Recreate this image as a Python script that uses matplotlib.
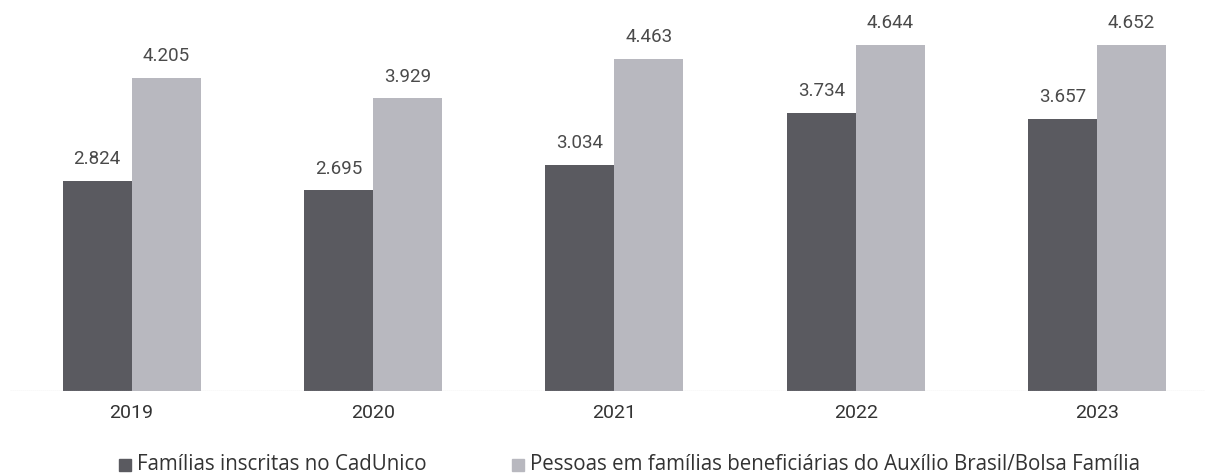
import numpy as np
import matplotlib.pyplot as plt
from matplotlib.patches import Rectangle

# Data
anos = ['2019', '2020', '2021', '2022', '2023']
familias = [2.824, 2.695, 3.034, 3.734, 3.657]
pessoas = [4.205, 3.929, 4.463, 4.644, 4.652]
rotulo_fam = 'Famílias inscritas no CadUnico'
rotulo_pes = 'Pessoas em famílias beneficiárias do Auxílio Brasil/Bolsa Família'

cor_escura = '#5a5a60'
cor_clara = '#b8b8bf'
cor_texto = '#4a4a4a'

W, H = 1205, 476
fig = plt.figure(figsize=(W/100, H/100), dpi=100)
ax = fig.add_axes([0, 85/H, 1, 391/H])

x = np.arange(len(anos))
w = 0.286
b1 = ax.bar(x - w/2, familias, w, color=cor_escura)
b2 = ax.bar(x + w/2, pessoas, w, color=cor_clara)

# value labels above each bar
for bars, vals in [(b1, familias), (b2, pessoas)]:
    for r, v in zip(bars, vals):
        ax.annotate(f'{v:.3f}', (r.get_x() + r.get_width()/2, v),
                    xytext=(0, 12), textcoords='offset points',
                    ha='center', va='baseline', fontsize=13.5,
                    family='Roboto', color=cor_texto)

ax.set_xlim(-0.545, 4.447)
ax.set_ylim(0, 5.25)
ax.set_yticks([])
ax.set_xticks(x)
ax.set_xticklabels(anos, fontsize=14, family='Roboto', color='#333333')
ax.tick_params(axis='x', length=0, pad=9)
for s in ['top', 'left', 'right', 'bottom']:
    ax.spines[s].set_visible(False)
ax.axhline(0, xmin=10/W, xmax=1, color='#c4c4c4', lw=0.9, ls=(0, (1, 0.6)))

# legend drawn by hand (square + text)
def item(x0, cor, txt):
    fig.patches.append(Rectangle((x0/W, 1 - 471/H), 12/W, 12/H,
                                 transform=fig.transFigure, color=cor))
    fig.text((x0 + 18)/W, 1 - 465/H, txt, ha='left', va='center',
             fontsize=14.8, family='Open Sans', color='#333333')

item(119, cor_escura, rotulo_fam)
item(512, cor_clara, rotulo_pes)

fig.savefig('out.png', dpi=100)
